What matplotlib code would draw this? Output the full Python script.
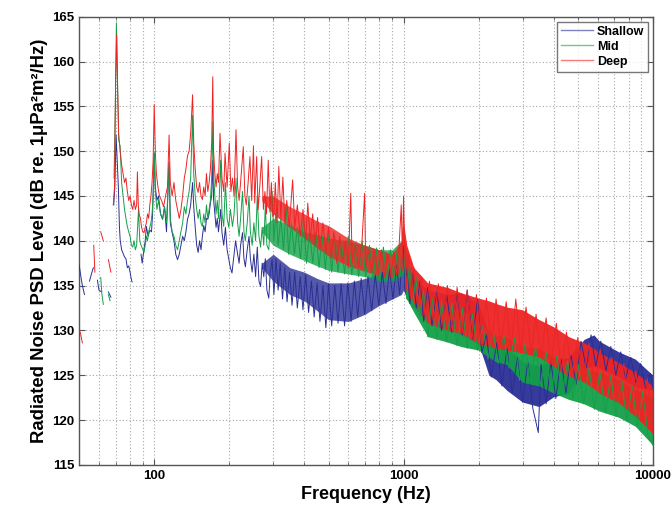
import numpy as np
import matplotlib
matplotlib.use("Agg")
import matplotlib.pyplot as plt
from matplotlib.ticker import LogLocator, NullFormatter, FixedLocator, FixedFormatter

nan = np.nan

# ---------------- data ----------------
series_names = ["Shallow", "Mid", "Deep"]

# line readings: frequency (Hz) and level (dB); nan marks a gap
shallow_f = [50, 50.8, 51.5, 52.5, 53, 55, 56, 57, 57.5, 59.2, 60, 61.5, 62, 65.5, 67, 67.5,
             68.8, 69.5, 70.3, 71, 71.8, 72.5, 73, 74, 75, 76, 77, 78, 79, 80, 80.8, 81.5, 84,
             88.5, 89.5, 90.6, 92, 93, 94.5, 96, 97.5, 98.5, 100, 101, 102.5, 104, 106, 108, 110, 112,
             114.7, 116, 118, 120, 122, 124, 126, 128, 130, 132, 134, 136, 138, 140, 142.5, 144, 146,
             148, 150, 152, 154, 156, 158, 160, 162, 164, 166, 168, 170, 171.7, 173, 175, 177, 179, 181,
             184.7, 187, 190, 193, 196, 199, 202, 205, 208, 212, 216, 219, 222, 226, 229, 232, 236, 240,
             243, 247, 251, 255, 259, 263, 267, 271, 275, 279, 283, 288, 292, 297,
             302, 308, 314, 320, 327, 334, 341, 349, 357, 366, 375, 385, 395, 405, 416, 427, 438, 450,
             462, 475, 488, 500, 515, 530, 546, 562, 580, 598, 616, 635, 655, 676, 698, 720, 745, 770,
             796, 822, 850, 878, 907, 937, 965, 985, 1000, 1015, 1035, 1060, 1090, 1125, 1165, 1205,
             1250, 1300, 1360, 1420, 1490, 1560, 1640, 1720, 1800, 1890, 1980, 2060, 2150, 2250, 2360,
             2480, 2600, 2730, 2860, 3000, 3150, 3300, 3470, 3560, 3730, 3900, 4080, 4280, 4480, 4700,
             4920, 5150, 5400, 5650, 5900, 6180, 6480, 6780, 7100, 7430, 7780, 8150, 8530, 8930, 9350,
             9780, 10000]
shallow_db = [137.3, 136, 135, 134, nan, 135.5, 136.3, 137, nan, 135.6, 134.5, 134.3, nan, 134.3, 133.7, nan,
              144, 146, 151.8, 149, 146, 141.6, 140.1, 139, 138.6, 138.2, 138, 137, 137.2, 136.5, 135.8, 135.4, nan,
              138.5, 137.5, 138.7, 140, 141.6, 140.5, 141.2, 141, 143, 149.8, 146, 144.5, 145, 143, 142.4, 143.8, 141,
              148.8, 142, 140.9, 140, 138.5, 137.9, 138.5, 139.5, 140.5, 140, 141, 142.4, 143, 144, 146.5, 143.8, 141.5,
              139.5, 138.7, 140, 139, 140.5, 141.7, 141, 142.5, 142.4, 143, 144.2, 145, 149, 144.6, 143, 141.5, 142.5, 141,
              143.5, 140.9, 139.5, 141.5, 139, 138, 137, 136.4, 138, 140, 138.5, 137.5, 139.5, 140.9, 138, 137.1, 139, 140.5,
              138, 136.5, 138.5, 136, 139.3, 135.5, 134.9, 137.5, 136, 138, 134.5, 133.6, 136.5, 137.9,
              134, 138, 134.5, 137.5, 133.5, 137, 133.2, 136.5, 132.8, 136.5, 132.5, 136, 132.3, 136.2, 132, 135.5, 131.5, 135.3,
              131, 135, 130.3, 135.2, 130.5, 135, 130.8, 135.2, 130.5, 135.3, 131, 135.5, 131.5, 135.8, 131.8, 136, 132.2, 136.2,
              132.8, 136.5, 133, 136.8, 133.5, 137.2, 134, 138, 139.5, 134.5, 137, 133, 136.3, 132.5, 135.5, 131,
              134.8, 130.5, 134.3, 130, 134, 129.8, 134.3, 129.5, 134.5, 129, 133.5, 127.5, 129.5, 124.8, 128.6,
              123.8, 128, 123, 127, 122, 126.5, 121.3, 118.6, 126.2, 121.8, 126.5, 122.4, 126.8, 123, 127.2,
              124, 128.8, 125.8, 129.5, 126, 128.8, 125.5, 128.2, 125, 127.6, 124.6, 127, 124.2, 126.3, 123.5,
              125.2, 123.5]

mid_f = [61, 61.7, 62.5, 63, 65.5, 66.5, 67,
         69, 69.8, 70.5, 71.2, 72, 73, 74, 75, 76, 77, 78, 79, 80, 81, 82, 83, 84, 85, 86.5, 87.5, 88.5, 90, 91,
         92, 93, 94, 95, 96, 97, 98, 99, 100, 101, 102.5, 104, 106, 108, 110, 112, 114.7, 116, 118, 120, 122,
         124, 126, 128, 130, 132, 134, 136, 138, 140, 142.5, 144, 146, 148, 150, 152, 154, 156, 158, 160, 162,
         164, 166, 168, 170, 171.7, 173, 175, 177, 179, 181, 184.7, 187, 190, 193, 196, 199, 202, 206, 209,
         212.8, 216, 219, 222, 226, 229, 232, 236, 240, 243, 247, 251, 255, 259, 263, 267, 271, 275, 279, 283,
         288, 292, 297,
         302, 308, 314, 322, 330, 338, 346, 355, 365, 375, 386, 397, 408, 420, 432, 445, 458, 472, 486, 500,
         515, 530, 546, 562, 580, 600, 620, 640, 660, 682, 705, 730, 755, 780, 805, 830, 858, 886, 915, 945,
         975, 990, 1000, 1012, 1030, 1055, 1085, 1120, 1160, 1200, 1250, 1300, 1360, 1420, 1490, 1560, 1640,
         1720, 1800, 1890, 1980, 2080, 2180, 2290, 2400, 2520, 2650, 2780, 2920, 3070, 3220, 3380, 3550, 3730,
         3920, 4120, 4330, 4550, 4780, 5020, 5280, 5550, 5830, 6130, 6450, 6780, 7120, 7480, 7860, 8260, 8680,
         9120, 9560, 10000]
mid_db = [135.9, 134, 132.9, nan, 134, 133.3, nan,
          147, 155, 164.3, 158, 151.3, 150.5, 146.5, 145, 143.5, 142.5, 141.6, 141, 140.5, 139.5, 139.3, 140, 139, 139.5, 143.5, 140, 139.5, 139, 138.7,
          139.5, 140.5, 140, 141, 141.5, 142, 143, 145, 149.8, 145.5, 143.5, 144.5, 143, 142.4, 143.8, 142, 148.3, 142.5, 141, 140.5, 139.5,
          139, 140, 141, 142, 143.8, 143, 144.5, 145.5, 147, 154, 147.5, 145, 143.5, 142.5, 143.5, 142, 141.6, 143, 142, 144,
          142.5, 143.5, 144.5, 147, 153.3, 147.5, 145, 143, 144.5, 142.5, 149, 143, 141.6, 146.5, 142.5, 141.5, 143.5, 141.6, 143,
          147, 142, 140.5, 142.5, 145.5, 141, 140, 142, 145, 141, 139.5, 142, 140, 145, 140.5, 139.3, 141.5, 139.5, 144, 139.5,
          139, 142, 145.5,
          140, 143.5, 139.5, 142.5, 139, 144, 138.5, 142, 138.5, 141.5, 138, 142.5, 137.5, 141, 137.5, 141, 137, 140.5, 136.8, 141,
          136.5, 140.5, 136.5, 140, 136.3, 140.5, 136.2, 139.8, 136, 140, 136, 139.5, 135.8, 139.2, 135.5, 139.3, 135.5, 139, 135.5, 139.2,
          136, 139.5, 141.5, 137, 133.5, 137.5, 132.5, 136, 131.5, 134.5, 129.3, 133.6, 129, 133.2, 128.7, 133, 128.3,
          132.5, 128, 131.8, 127.8, 130.5, 126.8, 129.8, 126.3, 129.5, 125.8, 129.2, 124.4, 128.5, 124, 128.2, 123.8, 127.6,
          123.2, 127.2, 122.8, 126.6, 122.3, 126.2, 121.8, 125.8, 121.2, 125.4, 120.8, 125, 120.4, 124.6, 119.9, 123.8, 119.2,
          123.2, 118.2, 117.2]

deep_f = [50.5, 51.5, 52, 57.2, 57.8, 58.5, 61, 62.5, 63, 65.5, 67, 67.5,
          68.5, 69.3, 70, 70.7, 71.3, 72, 73, 74, 75, 76, 77, 78, 79, 80, 81, 82, 83, 84, 85, 85.6, 86.3, 87,
          88, 89, 90, 91, 92, 93, 94, 95, 96, 97, 98, 99, 100, 101, 102, 103.5, 105, 107, 109, 111, 113, 114.7,
          116, 118, 120, 122, 124, 126, 128, 130, 132, 134, 136, 138, 140, 142.5, 144, 146, 148, 150, 152, 154,
          156, 158, 160, 162, 164, 166, 168, 170, 171.7, 173, 175, 177, 179, 181, 183.6, 187, 190, 192.3, 196,
          200, 203, 206, 209, 212.8, 216, 219, 222, 227.6, 231, 234, 238, 242, 246, 250, 253, 257.5, 261, 265,
          269.7, 274, 278, 282, 286.6, 291, 295, 299,
          302, 306, 311, 316, 322, 328, 334, 340, 348, 359, 366, 375, 385, 395, 405, 413, 422, 432, 442, 452,
          462, 475, 488, 500, 512, 525, 540, 555, 570, 585, 600, 614, 622, 640, 660, 680, 698, 705, 725, 745,
          765, 790, 815, 840, 865, 890, 915, 940, 960, 979, 990, 1000, 1010, 1025, 1045, 1070, 1100, 1140, 1180,
          1220, 1270, 1320, 1380, 1440, 1500, 1570, 1640, 1720, 1800, 1880, 1960, 2050, 2150, 2250, 2350, 2460,
          2580, 2700, 2820, 2950, 3100, 3250, 3400, 3560, 3730, 3900, 4100, 4300, 4500, 4750, 5000, 5250, 5550,
          5850, 6150, 6500, 6850, 7250, 7650, 8100, 8550, 9000, 9500, 10000]
deep_db = [129.8, 128.6, nan, 139.5, 136.5, nan, 141, 140, nan, 137.9, 136.5, nan,
           144, 146, 158, 163, 157, 152, 150, 148.5, 147.5, 146.5, 147, 145.5, 144.5, 145, 144, 143.5, 144.5, 143.5, 144, 147.7, 144, 143,
           142.5, 141.5, 141, 140.9, 141.5, 142, 143, 142.5, 144, 145, 146.5, 149, 155.2, 150, 147.5, 146, 145, 144.5, 143.8, 145, 146, 151.8,
           146.5, 145, 146.5, 144.5, 143.5, 142.5, 143.5, 145, 147, 148, 149.5, 150, 152, 156.3, 151, 148, 146, 145.4, 146.5, 145,
           144.6, 146, 145, 147.5, 145.5, 146.5, 148, 151, 158.3, 150, 147.5, 146, 147.5, 146.5, 152, 147, 145.5, 149.8, 146,
           150.9, 145.5, 147, 145, 152.4, 146, 144.5, 146.5, 150.5, 145, 144, 146.5, 149.4, 144.5, 150.6, 144.2, 149.4, 143.5, 146,
           149.4, 143.5, 145.5, 143, 149, 143.2, 146.5, 142.7,
           143, 146.5, 142, 148.3, 142.5, 147.1, 142, 144.5, 141.5, 146.8, 141.5, 144, 140.5, 143.5, 140, 144.2, 140, 143, 139.5, 142.6,
           139, 142, 138.5, 141.5, 138, 141, 137.5, 140.5, 137.5, 140, 137, 145.3, 137.5, 139.5, 137, 139.5, 145.3, 137, 139, 136.5,
           139, 136.3, 139, 136, 138.5, 136, 138.8, 136.2, 139.5, 144, 138, 145, 139, 134.5, 138.5, 133.5, 137, 132.5, 136,
           131.5, 135.5, 130.8, 135.2, 130.5, 135, 130, 134.8, 129.7, 134.5, 129, 134, 128.5, 133.6, 128.2, 133.5, 128,
           133.2, 127.8, 133.5, 127.5, 132.6, 127.3, 131.8, 127, 131.4, 126.2, 130.8, 125.5, 129.8, 124.9, 129.2, 124.3, 128.6,
           123.7, 127.9, 123, 127, 122.1, 126.3, 121.2, 125.5, 120, 124.6, 118.5]

# noise-band envelopes (upper / lower edge of the dense trace)
band_f = [270, 300, 350, 400, 450, 500, 600, 700, 800, 900, 980, 1000, 1030, 1100, 1250, 1500, 1700,
          2000, 2200, 2350, 2600, 3000, 3500, 4000, 4600, 5300, 5800, 6100, 7300, 8500, 10000]
shallow_hi = [137.5, 138.5, 137, 136.5, 135.8, 135.3, 135.3, 135.8, 136.3, 137, 138, 139, 137.5, 136, 134.5, 134,
              134.2, 133, 129.5, 128.6, 128, 126.5, 126, 126.7, 127, 129, 129.5, 128.8, 127.6, 126.8, 125]
shallow_lo = [137.0, 135.5, 134, 133.3, 132.2, 131.2, 131, 131.8, 132.8, 133.5, 134, 134.5, 133.5, 132.5, 130.8, 130,
              129.5, 128.5, 125, 124.5, 123.3, 122, 121.5, 122.6, 123, 125.8, 126, 125.8, 124.8, 123.7, 123.3]
mid_hi = [141.5, 142.5, 141.8, 141, 140.7, 140.3, 140, 139.5, 139, 139, 140, 141, 138, 136, 133.4, 132.8,
          132.3, 130.8, 130, 129.5, 129.2, 128.2, 128, 127, 126.4, 125.8, 125.5, 125.3, 124.5, 123.4, 122.5]
mid_lo = [141.0, 139.5, 138.5, 137.8, 137.2, 136.7, 136.3, 136, 135.5, 135.5, 136, 136.5, 133.5, 132, 129.3, 128.7,
          128.2, 127.8, 127, 126.5, 126.2, 124.2, 123.8, 123, 122.3, 121.8, 121.3, 121, 120.3, 119.3, 117.2]
deep_hi = [145, 145, 143.8, 143, 142.2, 141.7, 140.3, 139.5, 139, 138.5, 140, 142, 139.5, 137, 135.3, 134.8,
           134.2, 133.6, 133.3, 133, 132.6, 132.3, 131.2, 130.4, 129.3, 128.6, 128, 127.5, 126.4, 125.3, 123.8]
deep_lo = [144.5, 143, 141.5, 140.3, 139.2, 138.3, 137.2, 136.6, 136.1, 136, 136.5, 137, 134.5, 133, 130.8, 130,
           129.7, 128.5, 128.2, 128, 127.8, 127.5, 127, 126, 124.9, 124.2, 123.5, 123, 121.9, 120.4, 118.5]

x_ticks = [100, 1000, 10000]
x_ticklabels = ["100", "1000", "10000"]
y_ticks = [115, 120, 125, 130, 135, 140, 145, 150, 155, 160, 165]

# ---------------- styling ----------------
colors = {"Shallow": "#2b2f95", "Mid": "#14a049", "Deep": "#ee2424"}
font = "Liberation Sans"
plt.rcParams["font.family"] = [font, "DejaVu Sans"]

fig = plt.figure(figsize=(6.71, 5.08), dpi=100)
ax = fig.add_axes([0.118, 0.085, 0.855, 0.882])

bf = np.array(band_f)
series = [
    ("Shallow", shallow_f, shallow_db, shallow_hi, shallow_lo),
    ("Mid", mid_f, mid_db, mid_hi, mid_lo),
    ("Deep", deep_f, deep_db, deep_hi, deep_lo),
]
for name, f, db, hi, lo in series:
    c = colors[name]
    ax.fill_between(bf, lo, hi, where=bf <= 1000, color=c, lw=0, alpha=0.8, zorder=2)
    ax.fill_between(bf, lo, hi, where=bf >= 1000, color=c, lw=0, alpha=0.95, zorder=2)
    ax.plot(f, db, color=c, lw=0.7, zorder=3)
    ax.plot([], [], color=c, lw=1.0, alpha=0.6, label=name)

ax.set_xscale("log")
ax.set_xlim(50, 10000)
ax.set_ylim(115, 165)
ax.xaxis.set_major_locator(FixedLocator(x_ticks))
ax.xaxis.set_major_formatter(FixedFormatter(x_ticklabels))
ax.xaxis.set_minor_locator(LogLocator(base=10, subs=np.arange(2, 10)))
ax.xaxis.set_minor_formatter(NullFormatter())
ax.set_yticks(y_ticks)

ax.grid(True, which="major", axis="both", color="#a8a8a8", ls=(0, (1, 2)), lw=0.8)
ax.grid(True, which="minor", axis="x", color="#a8a8a8", ls=(0, (1, 2)), lw=0.8)
ax.set_axisbelow(True)

ax.tick_params(direction="in", which="both", top=True, right=True, labelsize=9.5,
               color="#555555", length=4)
ax.tick_params(which="minor", length=2.5)
for lab in ax.get_xticklabels() + ax.get_yticklabels():
    lab.set_fontweight("bold")
for s in ax.spines.values():
    s.set_color("#555555")
    s.set_linewidth(1.0)

ax.set_xlabel("Frequency (Hz)", fontsize=13, fontweight="bold", labelpad=3)
ax.set_ylabel("Radiated Noise PSD Level (dB re. 1\u03bcPa\u00b2m\u00b2/Hz)", fontsize=13.3,
              fontweight="bold", labelpad=3)

leg = ax.legend(loc="upper right", prop={"weight": "bold", "size": 9},
                frameon=True, fancybox=False, handlelength=2.6, handletextpad=0.3,
                borderpad=0.3, labelspacing=0.25, borderaxespad=0.4)
leg.get_frame().set_edgecolor("#555555")
leg.get_frame().set_linewidth(1.0)

fig.savefig("out.png", dpi=100)
